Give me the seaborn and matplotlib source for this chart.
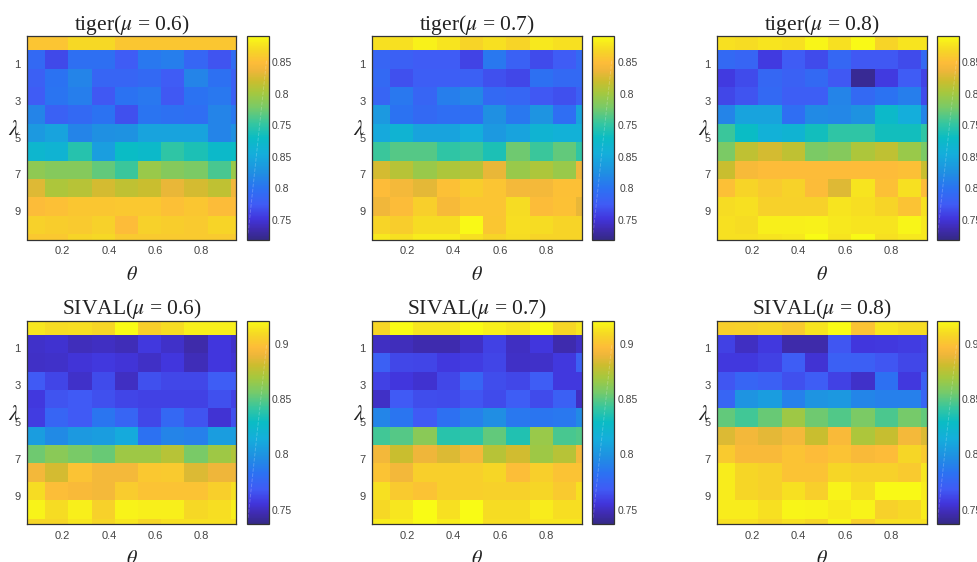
"""
Grid of parameter sensitivity heatmaps (theta vs lambda)
"""

import matplotlib.pyplot as plt
import numpy as np
import pandas as pd
import seaborn as sns
from matplotlib.colors import LinearSegmentedColormap

theta_cols = [0.1, 0.2, 0.3, 0.4, 0.5, 0.6, 0.7, 0.8, 0.9, 1.0]
lambda_rows = [0, 1, 2, 3, 4, 5, 6, 7, 8, 9, 10, 11]

tiger_06 = [
    [.856, .856, .870, .870, .857, .857, .857, .857, .857, .857],
    [.640, .614, .647, .647, .625, .656, .660, .637, .620, .643],
    [.630, .650, .665, .635, .635, .640, .625, .665, .648, .630],
    [.625, .652, .660, .622, .650, .655, .622, .650, .655, .630],
    [.665, .632, .640, .650, .618, .652, .648, .645, .665, .655],
    [.685, .695, .665, .675, .678, .695, .695, .695, .665, .675],
    [.720, .715, .745, .690, .730, .725, .750, .740, .725, .730],
    [.790, .785, .785, .770, .755, .795, .785, .780, .760, .795],
    [.830, .805, .810, .825, .815, .820, .835, .825, .815, .840],
    [.848, .852, .857, .857, .859, .859, .852, .857, .848, .850],
    [.865, .862, .860, .865, .850, .865, .862, .860, .868, .868],
    [.858, .858, .868, .870, .860, .860, .860, .860, .860, .860],
]
tiger_07 = [
    [.875, .875, .885, .878, .868, .875, .868, .880, .875, .875],
    [.635, .630, .625, .625, .610, .655, .632, .615, .625, .640],
    [.640, .618, .628, .628, .630, .618, .613, .648, .640, .640],
    [.635, .655, .635, .660, .668, .640, .637, .622, .618, .630],
    [.685, .650, .640, .645, .645, .675, .655, .680, .645, .695],
    [.700, .715, .695, .695, .705, .685, .695, .715, .710, .710],
    [.755, .765, .765, .750, .755, .740, .775, .755, .770, .750],
    [.825, .810, .795, .805, .810, .835, .795, .805, .795, .840],
    [.850, .842, .832, .852, .862, .856, .842, .842, .852, .852],
    [.840, .848, .864, .845, .856, .856, .872, .848, .854, .835],
    [.868, .862, .872, .872, .890, .857, .874, .872, .868, .868],
    [.880, .875, .882, .882, .875, .868, .872, .868, .868, .868],
]
tiger_08 = [
    [.875, .872, .878, .875, .888, .875, .890, .868, .878, .878],
    [.640, .635, .605, .625, .615, .638, .622, .622, .615, .640],
    [.605, .615, .638, .632, .640, .622, .575, .605, .625, .610],
    [.612, .620, .640, .628, .628, .665, .640, .650, .660, .615],
    [.665, .695, .695, .645, .670, .668, .678, .725, .705, .665],
    [.755, .730, .710, .715, .735, .750, .750, .735, .735, .750],
    [.780, .815, .825, .815, .780, .785, .805, .815, .795, .780],
    [.820, .845, .850, .850, .850, .850, .850, .850, .852, .820],
    [.852, .868, .860, .866, .848, .830, .878, .852, .875, .850],
    [.872, .875, .865, .865, .865, .878, .874, .868, .855, .875],
    [.875, .872, .884, .884, .885, .880, .878, .878, .888, .880],
    [.875, .875, .878, .880, .892, .878, .890, .875, .880, .880],
]
sival_06 = [
    [.914, .910, .911, .908, .921, .905, .910, .917, .917, .917],
    [.752, .753, .749, .750, .748, .757, .752, .745, .756, .752],
    [.751, .752, .755, .757, .755, .751, .756, .748, .756, .754],
    [.768, .761, .752, .763, .750, .765, .762, .762, .770, .770],
    [.757, .766, .768, .765, .761, .760, .760, .760, .765, .760],
    [.758, .775, .768, .785, .775, .762, .777, .766, .754, .765],
    [.805, .795, .803, .805, .812, .783, .792, .790, .805, .805],
    [.855, .862, .857, .853, .868, .868, .875, .857, .868, .873],
    [.892, .883, .900, .893, .893, .902, .903, .885, .890, .890],
    [.910, .898, .895, .893, .904, .900, .900, .900, .905, .912],
    [.918, .910, .917, .906, .918, .917, .917, .909, .911, .917],
    [.908, .908, .914, .908, .914, .908, .912, .912, .912, .912],
]
sival_07 = [
    [.908, .921, .914, .914, .921, .917, .914, .921, .908, .914],
    [.750, .749, .746, .746, .751, .760, .750, .756, .746, .751],
    [.772, .762, .761, .757, .758, .761, .751, .752, .757, .772],
    [.760, .756, .753, .762, .775, .764, .762, .770, .757, .757],
    [.751, .768, .764, .763, .767, .763, .770, .763, .772, .750],
    [.793, .785, .768, .782, .790, .797, .786, .785, .786, .795],
    [.845, .849, .862, .838, .840, .852, .836, .866, .846, .848],
    [.892, .880, .890, .885, .893, .875, .882, .868, .875, .893],
    [.900, .892, .905, .905, .905, .908, .898, .905, .900, .900],
    [.912, .903, .900, .905, .905, .906, .906, .908, .903, .912],
    [.909, .914, .921, .912, .921, .910, .910, .916, .911, .911],
    [.916, .916, .921, .916, .921, .911, .911, .914, .914, .914],
]
sival_08 = [
    [.905, .906, .908, .903, .913, .921, .900, .914, .910, .910],
    [.760, .750, .757, .745, .745, .767, .756, .757, .758, .760],
    [.757, .757, .760, .770, .754, .772, .771, .767, .762, .762],
    [.767, .775, .772, .765, .770, .760, .752, .782, .757, .772],
    [.775, .800, .805, .790, .800, .802, .793, .790, .790, .775],
    [.852, .845, .853, .868, .855, .848, .858, .847, .856, .852],
    [.885, .892, .887, .893, .880, .895, .872, .879, .893, .885],
    [.903, .895, .895, .900, .897, .900, .895, .897, .908, .903],
    [.916, .908, .906, .900, .900, .908, .906, .906, .903, .914],
    [.916, .908, .906, .912, .905, .918, .911, .920, .920, .916],
    [.916, .916, .912, .919, .918, .915, .918, .906, .909, .916],
    [.912, .912, .908, .912, .908, .918, .905, .912, .912, .912],
]

panel_titles = [
    r"tiger($\mu$ = 0.6)", r"tiger($\mu$ = 0.7)", r"tiger($\mu$ = 0.8)",
    r"SIVAL($\mu$ = 0.6)", r"SIVAL($\mu$ = 0.7)", r"SIVAL($\mu$ = 0.8)",
]
panel_data = [tiger_06, tiger_07, tiger_08, sival_06, sival_07, sival_08]

theta_ticks = [0.2, 0.4, 0.6, 0.8]
theta_labels = ["0.2", "0.4", "0.6", "0.8"]
lambda_ticks = [1, 3, 5, 7, 9]

tiger_range = (0.569, 0.892)
sival_range = (0.737, 0.9214)
# the tiger colorbar really does print these labels
tiger_cbar_ticks = [0.85, 0.80, 0.75, 0.70, 0.65, 0.60]
tiger_cbar_labels = ["0.85", "0.8", "0.75", "0.85", "0.8", "0.75"]
sival_cbar_ticks = [0.90, 0.85, 0.80, 0.75]
sival_cbar_labels = ["0.9", "0.85", "0.8", "0.75"]

parula = LinearSegmentedColormap.from_list(
    "parula_like",
    [
        (0.00, "#352a87"),
        (0.05, "#3f2bb0"),
        (0.10, "#4135dc"),
        (0.17, "#405bf5"),
        (0.25, "#2b72f2"),
        (0.33, "#1f90e2"),
        (0.42, "#14aedb"),
        (0.50, "#0abcc4"),
        (0.57, "#35c6a0"),
        (0.65, "#78ca68"),
        (0.72, "#a4c83f"),
        (0.78, "#cbbd2e"),
        (0.83, "#eeb63a"),
        (0.87, "#fdbc39"),
        (0.93, "#f6d626"),
        (1.00, "#f9fb15"),
    ],
)

sns.set_theme(style="white")
plt.rcParams["font.family"] = ["Liberation Sans", "DejaVu Sans"]
plt.rcParams["mathtext.fontset"] = "stix"

W, H = 978, 562
fig = plt.figure(figsize=(W / 100, H / 100), dpi=100, facecolor="white")

col_x = [(27.5, 236.5), (372.3, 581.7), (717.3, 926.7)]
cbar_x = [(247, 268.7), (592, 614), (936.7, 958.7)]
row_y = [(36, 239.5), (320.5, 524)]
line_col = "#333333"
text_col = "#444444"

for i, (title, values) in enumerate(zip(panel_titles, panel_data)):
    r, c = divmod(i, 3)
    x0, x1 = col_x[c]
    y0, y1 = row_y[r]
    ax = fig.add_axes([x0 / W, 1 - y1 / H, (x1 - x0) / W, (y1 - y0) / H])
    cx0, cx1 = cbar_x[c]
    cax = fig.add_axes([cx0 / W, 1 - y1 / H, (cx1 - cx0) / W, (y1 - y0) / H])

    vmin, vmax = tiger_range if r == 0 else sival_range
    df = pd.DataFrame(values, index=lambda_rows, columns=theta_cols)
    sns.heatmap(df, ax=ax, cmap=parula, vmin=vmin, vmax=vmax, cbar_ax=cax)

    # cells are offset from the axis values and cropped at the edges
    ax.set_xlim(0.24, 9.24)
    ax.set_ylim(11.29, 0.224)
    ax.set_xticks((np.array(theta_ticks) - 0.026) / 0.1)
    ax.set_xticklabels(theta_labels, rotation=0)
    ax.set_yticks(np.array(lambda_ticks) + 0.8)
    ax.set_yticklabels(lambda_ticks, rotation=0)
    ax.tick_params(
        direction="in", length=2.5, width=0.7, color=line_col, labelcolor=text_col,
        labelsize=8, top=True, right=True, bottom=True, left=True, pad=5,
    )
    for spine in ax.spines.values():
        spine.set_visible(True)
        spine.set_color(line_col)
        spine.set_linewidth(0.9)

    ax.set_title(title, family="Liberation Serif", fontsize=15.5, color="#222222", pad=4.5)
    ax.set_xlabel(r"$\theta$", fontsize=14.5, color="#222222", labelpad=6)
    ax.set_ylabel(r"$\lambda$", fontsize=16, color="#222222", rotation=0, ha="center", va="center")
    ax.yaxis.set_label_coords(-0.065, 0.54)

    cbar = ax.collections[0].colorbar
    if r == 0:
        cbar.set_ticks(tiger_cbar_ticks, labels=tiger_cbar_labels)
    else:
        cbar.set_ticks(sival_cbar_ticks, labels=sival_cbar_labels)
    cbar.ax.tick_params(direction="in", length=2.5, width=0.7, color=line_col, labelcolor=text_col, labelsize=7.5, pad=9.6)
    for lab in cbar.ax.get_yticklabels():
        lab.set_ha("center")
    cbar.outline.set_visible(True)
    cbar.outline.set_edgecolor(line_col)
    cbar.outline.set_linewidth(0.9)
    # faint streak across the colorbar
    cax.plot([0.05, 0.9], [0.03, 0.88], transform=cax.transAxes, color="white", alpha=0.22, lw=0.7, ls="--")

plt.savefig("out.png", dpi=100)
